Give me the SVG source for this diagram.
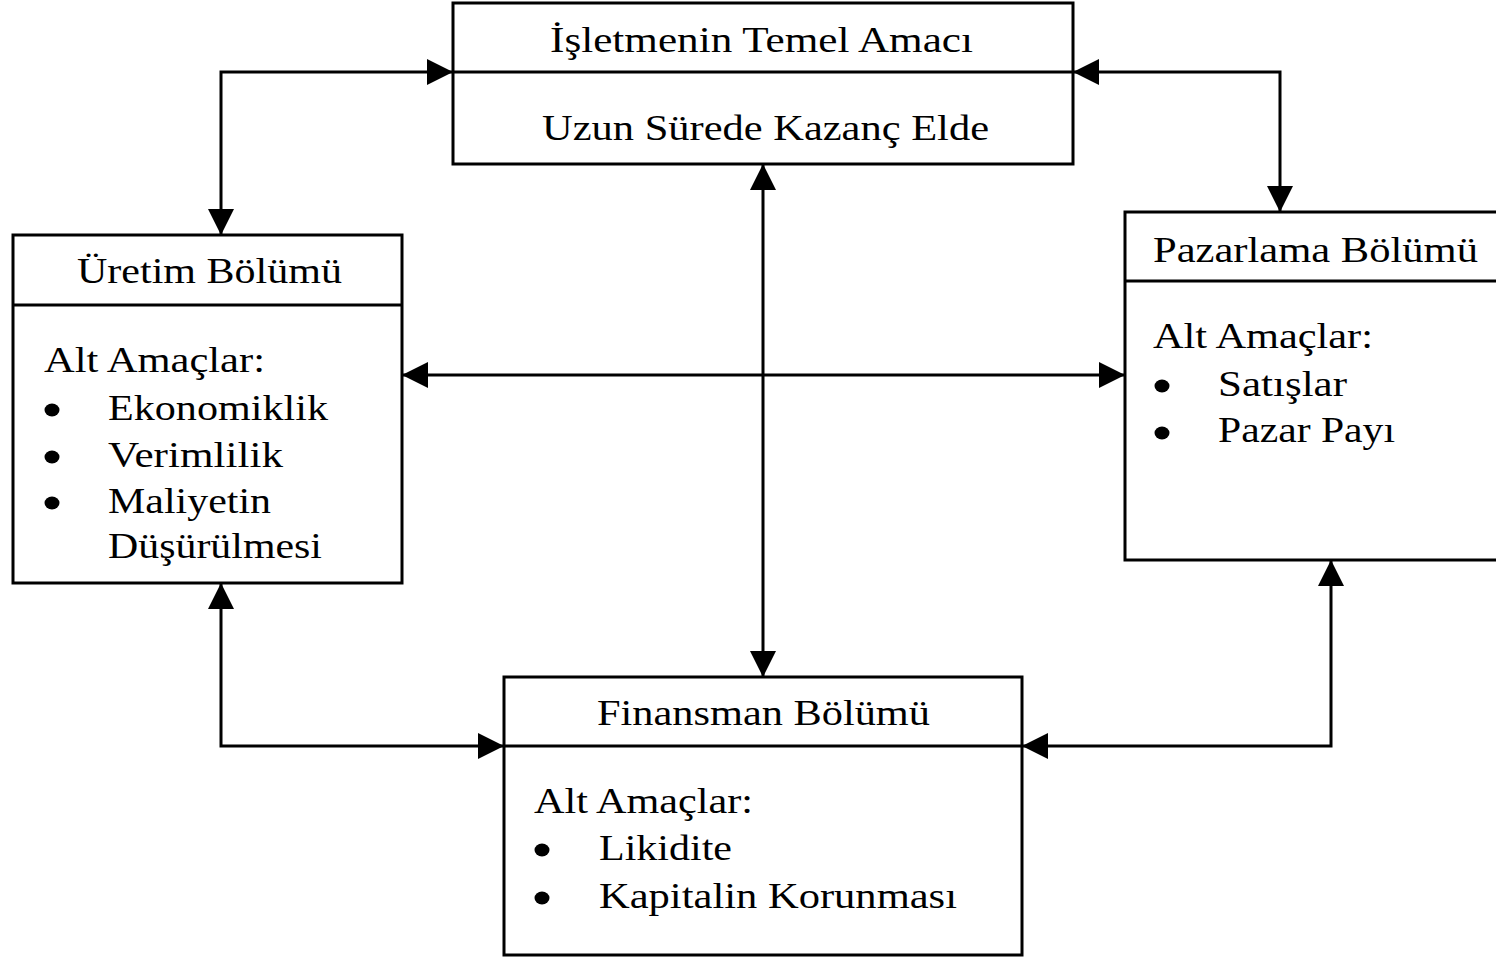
<svg xmlns="http://www.w3.org/2000/svg" width="1496" height="957" viewBox="0 0 1496 957">
  <style>
    .box { fill: #ffffff; stroke: #000000; stroke-width: 3; }
    .rule { stroke: #000000; stroke-width: 3; }
    .t { font-family: "Liberation Serif", "Times New Roman", serif; font-size: 36px; fill: #000000; }
    .dot { fill: #000000; }
    .link { fill: none; stroke: #000000; stroke-width: 3; marker-start: url(#head); marker-end: url(#head); }
  </style>
  <defs>
    <marker id="head" markerUnits="userSpaceOnUse" markerWidth="26" markerHeight="26" refX="26" refY="13" orient="auto-start-reverse">
      <path d="M0,0 L26,13 L0,26 z" fill="#000000"/>
    </marker>
  </defs>
  <rect width="1496" height="957" fill="#ffffff"/>

  <!-- main goal -->
  <g id="amac">
    <rect class="box" x="453" y="3" width="620" height="161"/>
    <line class="rule" x1="453" y1="72" x2="1073" y2="72"/>
    <text class="t" x="550" y="52" textLength="423" lengthAdjust="spacingAndGlyphs">İşletmenin Temel Amacı</text>
    <text class="t" x="542" y="140" textLength="447" lengthAdjust="spacingAndGlyphs">Uzun Sürede Kazanç Elde</text>
  </g>

  <!-- production -->
  <g id="uretim">
    <rect class="box" x="13" y="235" width="389" height="348"/>
    <line class="rule" x1="13" y1="305" x2="402" y2="305"/>
    <text class="t" x="77" y="283" textLength="265" lengthAdjust="spacingAndGlyphs">Üretim Bölümü</text>
    <text class="t" x="44" y="372" textLength="221" lengthAdjust="spacingAndGlyphs">Alt Amaçlar:</text>
    <ellipse class="dot" cx="52" cy="410" rx="7.5" ry="6.5"/>
    <text class="t" x="108" y="420" textLength="220" lengthAdjust="spacingAndGlyphs">Ekonomiklik</text>
    <ellipse class="dot" cx="52" cy="457" rx="7.5" ry="6.5"/>
    <text class="t" x="108" y="467" textLength="175" lengthAdjust="spacingAndGlyphs">Verimlilik</text>
    <ellipse class="dot" cx="52" cy="503" rx="7.5" ry="6.5"/>
    <text class="t" x="108" y="513" textLength="163" lengthAdjust="spacingAndGlyphs">Maliyetin</text>
    <text class="t" x="108" y="558" textLength="214" lengthAdjust="spacingAndGlyphs">Düşürülmesi</text>
  </g>

  <!-- marketing -->
  <g id="pazarlama">
    <rect class="box" x="1125" y="212" width="380" height="348"/>
    <line class="rule" x1="1125" y1="281" x2="1505" y2="281"/>
    <text class="t" x="1153" y="262" textLength="325" lengthAdjust="spacingAndGlyphs">Pazarlama Bölümü</text>
    <text class="t" x="1153" y="348" textLength="220" lengthAdjust="spacingAndGlyphs">Alt Amaçlar:</text>
    <ellipse class="dot" cx="1162" cy="386" rx="7.5" ry="6.5"/>
    <text class="t" x="1218" y="396" textLength="129" lengthAdjust="spacingAndGlyphs">Satışlar</text>
    <ellipse class="dot" cx="1162" cy="433" rx="7.5" ry="6.5"/>
    <text class="t" x="1218" y="442" textLength="177" lengthAdjust="spacingAndGlyphs">Pazar Payı</text>
  </g>

  <!-- finance -->
  <g id="finansman">
    <rect class="box" x="504" y="677" width="518" height="278"/>
    <line class="rule" x1="504" y1="746" x2="1022" y2="746"/>
    <text class="t" x="597" y="725" textLength="333" lengthAdjust="spacingAndGlyphs">Finansman Bölümü</text>
    <text class="t" x="534" y="813" textLength="219" lengthAdjust="spacingAndGlyphs">Alt Amaçlar:</text>
    <ellipse class="dot" cx="542" cy="850" rx="7.5" ry="6.5"/>
    <text class="t" x="599" y="860" textLength="133" lengthAdjust="spacingAndGlyphs">Likidite</text>
    <ellipse class="dot" cx="542" cy="898" rx="7.5" ry="6.5"/>
    <text class="t" x="599" y="908" textLength="358" lengthAdjust="spacingAndGlyphs">Kapitalin Korunması</text>
  </g>

  <!-- two-way links between departments and the main goal -->
  <g id="connectors">
    <path class="link" d="M221,235 V72 H453"/>
    <path class="link" d="M1073,72 H1280 V212"/>
    <path class="link" d="M763,164 V677"/>
    <path class="link" d="M402,375 H1125"/>
    <path class="link" d="M221,583 V746 H504"/>
    <path class="link" d="M1022,746 H1331 V560"/>
  </g>
</svg>
